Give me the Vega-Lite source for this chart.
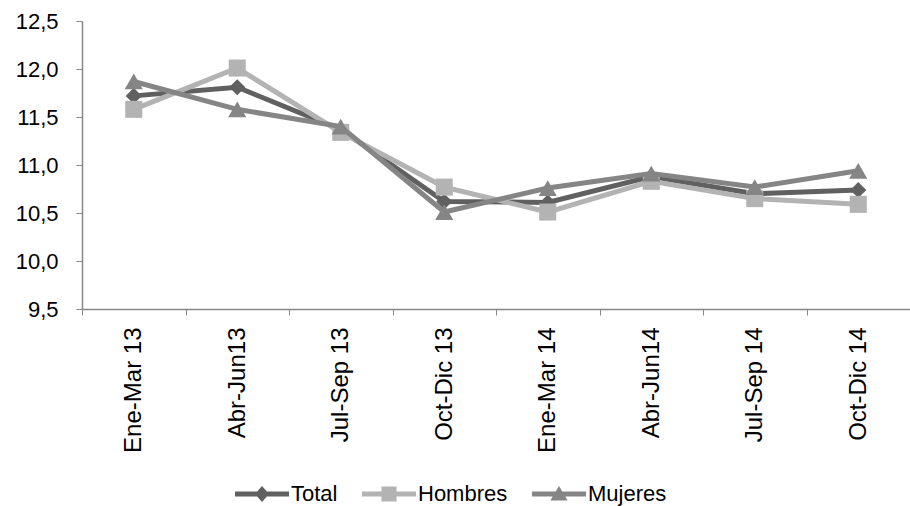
{
  "$schema": "https://vega.github.io/schema/vega-lite/v6.json",
  "autosize": {"type": "none"},
  "padding": {"left": 82, "top": 21, "right": 0, "bottom": 197},
  "width": 828,
  "height": 288,
  "background": "white",
  "config": {
    "view": {"stroke": null},
    "font": "Liberation Sans",
    "axis": {"labelFont": "Liberation Sans", "labelColor": "#000000", "domainColor": "#888888", "tickColor": "#888888", "grid": false}
  },
  "data": {
    "values": [
      {"periodo": "Ene-Mar 13", "serie": "Total", "valor": 11.72},
      {"periodo": "Abr-Jun13", "serie": "Total", "valor": 11.81},
      {"periodo": "Jul-Sep 13", "serie": "Total", "valor": 11.37},
      {"periodo": "Oct-Dic 13", "serie": "Total", "valor": 10.62},
      {"periodo": "Ene-Mar 14", "serie": "Total", "valor": 10.61},
      {"periodo": "Abr-Jun14", "serie": "Total", "valor": 10.88},
      {"periodo": "Jul-Sep 14", "serie": "Total", "valor": 10.70},
      {"periodo": "Oct-Dic 14", "serie": "Total", "valor": 10.74},
      {"periodo": "Ene-Mar 13", "serie": "Hombres", "valor": 11.58},
      {"periodo": "Abr-Jun13", "serie": "Hombres", "valor": 12.01},
      {"periodo": "Jul-Sep 13", "serie": "Hombres", "valor": 11.34},
      {"periodo": "Oct-Dic 13", "serie": "Hombres", "valor": 10.77},
      {"periodo": "Ene-Mar 14", "serie": "Hombres", "valor": 10.51},
      {"periodo": "Abr-Jun14", "serie": "Hombres", "valor": 10.83},
      {"periodo": "Jul-Sep 14", "serie": "Hombres", "valor": 10.65},
      {"periodo": "Oct-Dic 14", "serie": "Hombres", "valor": 10.59},
      {"periodo": "Ene-Mar 13", "serie": "Mujeres", "valor": 11.87},
      {"periodo": "Abr-Jun13", "serie": "Mujeres", "valor": 11.58},
      {"periodo": "Jul-Sep 13", "serie": "Mujeres", "valor": 11.40},
      {"periodo": "Oct-Dic 13", "serie": "Mujeres", "valor": 10.51},
      {"periodo": "Ene-Mar 14", "serie": "Mujeres", "valor": 10.76},
      {"periodo": "Abr-Jun14", "serie": "Mujeres", "valor": 10.91},
      {"periodo": "Jul-Sep 14", "serie": "Mujeres", "valor": 10.77},
      {"periodo": "Oct-Dic 14", "serie": "Mujeres", "valor": 10.94}
    ]
  },
  "encoding": {
    "x": {
      "field": "periodo", "type": "nominal", "bandPosition": 0.5,
      "sort": ["Ene-Mar 13", "Abr-Jun13", "Jul-Sep 13", "Oct-Dic 13", "Ene-Mar 14", "Abr-Jun14", "Jul-Sep 14", "Oct-Dic 14"],
      "scale": {"type": "band", "paddingInner": 0, "paddingOuter": 0},
      "axis": {"title": null, "labelAngle": -90, "labelFontSize": 24, "labelPadding": 12, "tickSize": 6, "tickBand": "extent", "domainWidth": 1.5}
    },
    "y": {
      "field": "valor", "type": "quantitative",
      "scale": {"domain": [9.5, 12.5], "nice": false, "zero": false},
      "axis": {"title": null, "values": [9.5, 10, 10.5, 11, 11.5, 12, 12.5], "labelExpr": "replace(format(datum.value, '.1f'), '.', ',')", "labelFontSize": 22, "labelPadding": 18, "tickSize": 6, "domainWidth": 1.5}
    },
    "color": {
      "field": "serie", "type": "nominal",
      "scale": {"domain": ["Total", "Hombres", "Mujeres"], "range": ["#606060", "#b3b3b3", "#858585"]},
      "legend": {
        "title": null, "orient": "none", "direction": "horizontal", "legendX": 153, "legendY": 446,
        "labelFontSize": 22, "labelColor": "#000000", "labelOffset": 2, "columnPadding": 24, "padding": 0,
        "symbolSize": 2916, "symbolStrokeWidth": 0,
        "encode": {
          "symbols": {
            "update": {
              "shape": {"signal": "datum.value === 'Total' ? 'M-1,-0.09L1,-0.09L1,0.09L-1,0.09Z M0,-0.3L0.26,0L0,0.3L-0.26,0Z' : datum.value === 'Hombres' ? 'M-1,-0.09L1,-0.09L1,0.09L-1,0.09Z M-0.28,-0.28L0.28,-0.28L0.28,0.28L-0.28,0.28Z' : 'M-1,-0.09L1,-0.09L1,0.09L-1,0.09Z M0,-0.3L0.32,0.24L-0.32,0.24Z'"},
              "size": {"value": 2916},
              "strokeWidth": {"value": 0}
            }
          }
        }
      }
    }
  },
  "layer": [
    {
      "transform": [{"filter": "datum.serie === 'Total'"}],
      "layer": [
        {"mark": {"type": "line", "strokeWidth": 5}},
        {"mark": {"type": "point", "filled": true, "opacity": 1, "shape": "diamond", "size": 260}}
      ]
    },
    {
      "transform": [{"filter": "datum.serie === 'Hombres'"}],
      "layer": [
        {"mark": {"type": "line", "strokeWidth": 5}},
        {"mark": {"type": "point", "filled": true, "opacity": 1, "shape": "square", "size": 290}}
      ]
    },
    {
      "transform": [{"filter": "datum.serie === 'Mujeres'"}],
      "layer": [
        {"mark": {"type": "line", "strokeWidth": 5}},
        {"mark": {"type": "point", "filled": true, "opacity": 1, "shape": "triangle-up", "size": 330}}
      ]
    }
  ]
}
